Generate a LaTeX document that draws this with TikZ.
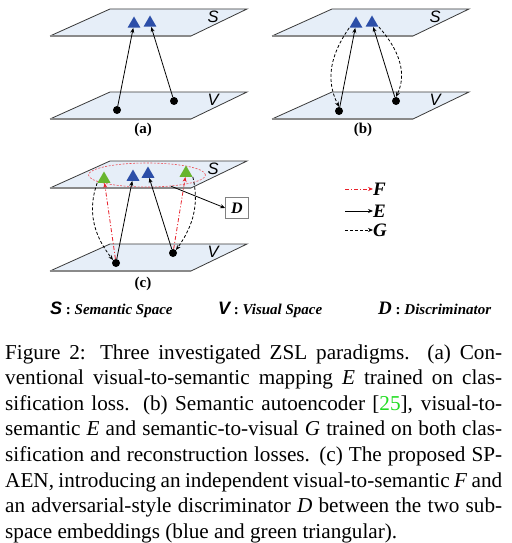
\documentclass[tikz,border=0pt]{standalone}
\usepackage{fontspec}
\setmainfont{Liberation Serif}
\newfontfamily\sansf{Liberation Sans}
\usetikzlibrary{shapes.geometric,arrows.meta}
\definecolor{planefill}{HTML}{E6EEF8}
\definecolor{planeedge}{HTML}{3A3A3A}
\definecolor{planefront}{HTML}{8A8A8A}
\definecolor{triblue}{HTML}{2C4EA8}
\definecolor{trigreen}{HTML}{68B52E}
\definecolor{fred}{HTML}{E8202A}
\definecolor{citegreen}{HTML}{22DD22}
\newcommand\myplane[2]{%
  \fill[planefill] (#1,#2) -- ++(137,0) -- ++(-56,27) -- ++(-141,0) -- cycle;
  \draw[planeedge,line width=0.8pt] (#1-60,#2+27) -- (#1,#2) -- ++(137,0) -- ++(-56,27);
  \draw[planefront,line width=1.4pt] (#1-60,#2+27) -- ++(141,0);
}
\begin{document}
\begin{tikzpicture}[x=1pt,y=-1pt,
  >={Stealth[length=5pt,width=4pt]},
  tri/.style={regular polygon, regular polygon sides=3, minimum size=15pt, inner sep=0pt},
  bluetri/.style={tri, fill=triblue},
  greentri/.style={tri, fill=trigreen},
  dot/.style={circle, fill=black, minimum size=8pt, inner sep=0pt},
  spacelbl/.style={font=\sansf\itshape\fontsize{16.5}{16.5}\selectfont, inner sep=0pt},
  panellbl/.style={font=\bfseries\fontsize{15}{15}\selectfont, inner sep=0pt},
  emap/.style={->, line width=0.8pt, black},
  gmap/.style={->, line width=0.8pt, black, dash pattern=on 3pt off 2pt},
  fmap/.style={->, line width=0.8pt, fred, dash pattern=on 4pt off 2pt on 1pt off 2pt},
  legl/.style={anchor=west, inner sep=0pt, font=\bfseries\itshape\fontsize{19}{19}\selectfont},
  botleg/.style={anchor=base west, inner sep=0pt},
  capline/.style={anchor=base west, inner sep=0pt, font=\fontsize{21.2}{25.5}\selectfont}
]
\useasboundingbox (0,0) rectangle (511,543);
\fill[white] (0,0) rectangle (511,543);

% ---------- panel (a)
\myplane{110}{9}
\myplane{110}{92}
\node[spacelbl] (aS) at (213,17) {S};
\node[spacelbl] (aV) at (213,100) {V};
\node[bluetri] (a1) at (134,24) {};
\node[bluetri] (a2) at (150,23) {};
\node[dot] (ad1) at (117,110) {};
\node[dot] (ad2) at (174,101) {};
\draw[emap] (ad1) -- (a1);
\draw[emap] (ad2) -- (a2);
\node[panellbl] (al) at (143,130) {(a)};

% ---------- panel (b)
\myplane{332}{9}
\myplane{332}{92}
\node[spacelbl] (bS) at (435,17) {S};
\node[spacelbl] (bV) at (435,100) {V};
\node[bluetri] (b1) at (356,24) {};
\node[bluetri] (b2) at (372,23) {};
\node[dot] (bd1) at (339,111) {};
\node[dot] (bd2) at (396,101) {};
\draw[emap] (bd1) -- (b1);
\draw[emap] (bd2) -- (b2);
\draw[gmap] (b1.corner 2) .. controls (331,54) and (325,79) .. (bd1.north);
\draw[gmap] (b2.corner 3) .. controls (400,51) and (407,74) .. (bd2.north);
\node[panellbl] (bl) at (363,130) {(b)};

% ---------- panel (c)
\myplane{110}{161}
\myplane{110}{244}
\node[spacelbl] (cS) at (213,169) {S};
\node[spacelbl] (cV) at (213,252) {V};
\node[ellipse, draw=fred!80, line width=0.6pt, dash pattern=on 2pt off 1.5pt,
      minimum width=117pt, minimum height=24pt, inner sep=0pt] (ell) at (147,175) {};
\node[greentri] (g1) at (104,179) {};
\node[bluetri] (cb1) at (133,177) {};
\node[bluetri] (cb2) at (148,174) {};
\node[greentri] (g2) at (186,173) {};
\node[dot] (cd1) at (116,263) {};
\node[dot] (cd2) at (173,253) {};
\node[draw=gray, line width=0.6pt, minimum width=23pt, minimum height=21pt, inner sep=0pt,
      font=\bfseries\itshape\fontsize{16}{16}\selectfont] (D) at (237,208) {D};
\draw[emap] (ell.-25) -- (D.west);
\draw[emap] (cd1) -- (cb1);
\draw[emap] (cd2) -- (cb2);
\draw[fmap] (cd1) -- (g1);
\draw[fmap] (cd2) -- (g2);
\draw[gmap] (g1.corner 2) .. controls (88,209) and (92,233) .. (cd1.135);
\draw[gmap] (g2.corner 3) .. controls (199,203) and (194,225) .. (cd2.45);
\node[panellbl] (cl) at (143,284) {(c)};

% ---------- legend of maps
\coordinate (lf) at (345,189);
\coordinate (le) at (345,211);
\coordinate (lg) at (345,230);
\node[legl] (lF) at (373,189) {F};
\node[legl] (lE) at (373,211) {E};
\node[legl] (lG) at (373,230) {G};
\draw[fmap] (lf) -- (lF.west);
\draw[emap] (le) -- (lE.west);
\draw[gmap] (lg) -- (lG.west);

% ---------- legend of spaces
\node[botleg] (legS) at (50,314) {{\sansf\bfseries\itshape\fontsize{18}{18}\selectfont S}{\bfseries\fontsize{15}{16}\selectfont\ :\ \textit{Semantic Space}}};
\node[botleg] (legV) at (218,314) {{\sansf\bfseries\itshape\fontsize{18}{18}\selectfont V}{\bfseries\fontsize{15}{16}\selectfont\ :\ \textit{Visual Space}}};
\node[botleg] (legD) at (378,314) {{\bfseries\itshape\fontsize{19}{19}\selectfont D}{\bfseries\fontsize{15}{16}\selectfont\ :\ \textit{Discriminator}}};

% ---------- caption
\node[capline] (cap1) at (5,359)   {\makebox[497pt][s]{Figure 2: Three investigated ZSL paradigms. (a) Con-}};
\node[capline] (cap2) at (5,384.6) {\makebox[497pt][s]{ventional visual-to-semantic mapping \textit{E} trained on clas-}};
\node[capline] (cap3) at (5,410.2) {\makebox[497pt][s]{sification loss. (b) Semantic autoencoder [\textcolor{citegreen}{25}], visual-to-}};
\node[capline] (cap4) at (5,435.8) {\makebox[497pt][s]{semantic \textit{E} and semantic-to-visual \textit{G} trained on both clas-}};
\node[capline] (cap5) at (5,461.4) {\makebox[497pt][s]{sification and reconstruction losses. (c) The proposed SP-}};
\node[capline] (cap6) at (5,487)   {\makebox[497pt][s]{AEN, introducing an independent visual-to-semantic \textit{F} and}};
\node[capline] (cap7) at (5,512.6) {\makebox[497pt][s]{an adversarial-style discriminator \textit{D} between the two sub-}};
\node[capline] (cap8) at (5,538.2) {space embeddings (blue and green triangular).};
\end{tikzpicture}
\end{document}
